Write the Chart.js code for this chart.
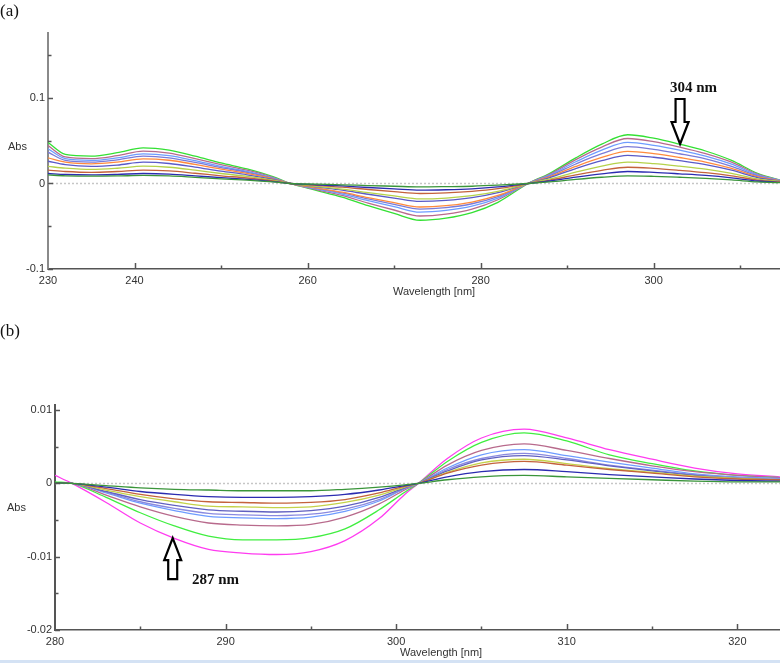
<!DOCTYPE html>
<html lang="en">
<head>
<meta charset="UTF-8">
<title>Derivative spectra</title>
<script src="https://cdn.jsdelivr.net/npm/chart.js@4"></script>
<style>
  body { margin: 0; background: #fff; width: 780px; height: 663px; position: relative; overflow: hidden; font-family: Arial, "Liberation Sans", sans-serif; }
  canvas { position: absolute; left: 0; }
  #chartA { top: 0; }
  #chartB { top: 300px; }
  .lbl { position: absolute; white-space: nowrap; line-height: 1; }
  .panel { font-family: "Liberation Serif", "Times New Roman", serif; font-size: 17px; color: #111; }
  .axis { font-size: 11px; color: #333; }
  .note { font-family: "Liberation Serif", "Times New Roman", serif; font-weight: bold; font-size: 15px; color: #111; }
  .bar { position: absolute; left: 0; top: 660px; width: 780px; height: 3px; background: #d4e2f4; }
</style>
</head>
<body>
<canvas id="chartA" width="780" height="300"></canvas>
<canvas id="chartB" width="780" height="363"></canvas>

<div class="lbl panel" style="left:0; top:2px;">(a)</div>
<div class="lbl axis" style="left:8px; top:141px;">Abs</div>
<div class="lbl axis" style="left:393px; top:286px;">Wavelength [nm]</div>
<div class="lbl note" style="left:670px; top:80px;">304 nm</div>

<div class="lbl panel" style="left:0; top:322px;">(b)</div>
<div class="lbl axis" style="left:7px; top:502px;">Abs</div>
<div class="lbl axis" style="left:400px; top:647px;">Wavelength [nm]</div>
<div class="lbl note" style="left:192px; top:572px;">287 nm</div>
<div class="bar"></div>

<script>
// ---- (a) spectra, 230-315 nm ----
const waveA = [230, 232, 235, 238, 241, 244, 247, 250, 253, 256, 258, 261, 264, 267, 270, 273, 276, 279, 282, 285.5, 288, 291, 294, 297, 300, 303, 306, 309, 312, 315];
const a_green      = [0.048, 0.034, 0.032, 0.036, 0.0417, 0.039, 0.032, 0.024, 0.017, 0.008, 0, -0.008, -0.016, -0.026, -0.035, -0.043, -0.0405, -0.034, -0.022, 0, 0.012, 0.030, 0.046, 0.057, 0.053, 0.046, 0.038, 0.027, 0.012, 0.003];
const a_mauve      = [0.0444, 0.031, 0.029, 0.0325, 0.0378, 0.0355, 0.029, 0.022, 0.0155, 0.0072, 0, -0.0072, -0.014, -0.023, -0.031, -0.038, -0.0358, -0.030, -0.019, 0, 0.011, 0.028, 0.0426, 0.0526, 0.049, 0.0426, 0.035, 0.025, 0.011, 0.003];
const a_lightBlue  = [0.0406, 0.029, 0.027, 0.030, 0.0347, 0.0326, 0.0267, 0.020, 0.0142, 0.0066, 0, -0.0064, -0.0124, -0.020, -0.027, -0.0335, -0.0315, -0.0265, -0.017, 0, 0.010, 0.0254, 0.039, 0.048, 0.0446, 0.039, 0.032, 0.0226, 0.010, 0.003];
const a_slate      = [0.0366, 0.027, 0.025, 0.0276, 0.032, 0.030, 0.0246, 0.0186, 0.0131, 0.0061, 0, -0.0057, -0.011, -0.018, -0.0243, -0.030, -0.0283, -0.0237, -0.0153, 0, 0.009, 0.0228, 0.0348, 0.043, 0.040, 0.0348, 0.0288, 0.020, 0.009, 0.0025];
const a_orange     = [0.030, 0.025, 0.023, 0.025, 0.0289, 0.0272, 0.0223, 0.0168, 0.0118, 0.0055, 0, -0.0052, -0.0102, -0.0165, -0.0223, -0.0275, -0.026, -0.0217, -0.014, 0, 0.0079, 0.0199, 0.0304, 0.0375, 0.0349, 0.0304, 0.0251, 0.0176, 0.0079, 0.0025];
const a_purple     = [0.026, 0.022, 0.020, 0.0215, 0.0249, 0.0234, 0.0192, 0.0144, 0.0102, 0.0047, 0, -0.004, -0.0078, -0.0126, -0.017, -0.021, -0.0198, -0.0166, -0.0107, 0, 0.0069, 0.0175, 0.0267, 0.033, 0.0307, 0.0267, 0.0221, 0.0155, 0.0069, 0.002];
const a_yellowGrn  = [0.020, 0.018, 0.0165, 0.0178, 0.0202, 0.019, 0.0156, 0.0117, 0.0083, 0.0038, 0, -0.0034, -0.0067, -0.0108, -0.0146, -0.018, -0.017, -0.0142, -0.0092, 0, 0.0053, 0.0133, 0.0203, 0.025, 0.0233, 0.0203, 0.0168, 0.0118, 0.0053, 0.002];
const a_brown      = [0.0156, 0.014, 0.013, 0.014, 0.0156, 0.0147, 0.012, 0.009, 0.0064, 0.003, 0, -0.0022, -0.0043, -0.007, -0.0095, -0.0117, -0.011, -0.0092, -0.006, 0, 0.004, 0.010, 0.0154, 0.019, 0.0177, 0.0154, 0.0127, 0.009, 0.004, 0.0015];
const a_navy       = [0.0117, 0.0105, 0.010, 0.0106, 0.0117, 0.011, 0.009, 0.0068, 0.0048, 0.0022, 0, -0.0015, -0.0029, -0.0047, -0.0063, -0.0078, -0.0073, -0.0062, -0.004, 0, 0.0029, 0.0074, 0.0113, 0.014, 0.013, 0.0113, 0.0094, 0.0066, 0.0029, 0.001];
const a_darkGreen  = [0.010, 0.009, 0.0085, 0.0088, 0.0094, 0.0088, 0.0072, 0.0055, 0.0039, 0.0018, 0, -0.0008, -0.0015, -0.0024, -0.0032, -0.004, -0.0037, -0.0032, -0.002, 0, 0.0019, 0.0048, 0.0073, 0.009, 0.0084, 0.0073, 0.006, 0.0042, 0.0019, 0.0008];

const a_yLabels = [0.1, 0, -0.1];
const a_yMinor = [0.15, 0.05, -0.05];
const a_xLabels = [230, 240, 260, 280, 300];
const a_xMajor = [240, 260, 280, 300];
const a_xMinor = [250, 270, 290, 310];

// ---- (b) spectra, 280-322.5 nm ----
const waveB = [280, 281, 283, 285, 287, 289, 291, 293, 295, 297, 299, 300.5, 301.3, 303, 305, 307.5, 310, 312.5, 315, 317.5, 320, 322.5];
const b_magenta    = [0.0011, 0, -0.0026, -0.0054, -0.0075, -0.009, -0.0095, -0.0097, -0.0093, -0.0078, -0.0048, -0.0015, 0, 0.0034, 0.0062, 0.0074, 0.0062, 0.0046, 0.0033, 0.0021, 0.0013, 0.0009];
const b_green      = [0.0002, 0, -0.0019, -0.004, -0.0058, -0.0072, -0.0077, -0.0077, -0.0074, -0.0062, -0.0036, -0.0012, 0, 0.003, 0.0056, 0.0069, 0.0058, 0.0039, 0.0027, 0.0017, 0.0011, 0.0008];
const b_mauve      = [0.0001, 0, -0.0016, -0.0032, -0.0045, -0.0054, -0.0057, -0.0058, -0.0056, -0.0046, -0.0028, -0.0009, 0, 0.0025, 0.0045, 0.0054, 0.0045, 0.0034, 0.0024, 0.0016, 0.0011, 0.0008];
const b_lightBlue  = [0.0001, 0, -0.0013, -0.0027, -0.0037, -0.0045, -0.0047, -0.0048, -0.0046, -0.0038, -0.0024, -0.0007, 0, 0.0021, 0.0039, 0.0046, 0.0038, 0.0029, 0.0021, 0.0013, 0.0009, 0.0007];
const b_lavender   = [0.0001, 0, -0.0012, -0.0025, -0.0034, -0.0041, -0.0043, -0.0044, -0.0042, -0.0035, -0.0022, -0.0007, 0, 0.0019, 0.0034, 0.0041, 0.0034, 0.0025, 0.0018, 0.0012, 0.0008, 0.0006];
const b_purple     = [0.0001, 0, -0.0011, -0.0022, -0.003, -0.0036, -0.0038, -0.0039, -0.0037, -0.0031, -0.0019, -0.0006, 0, 0.0017, 0.0032, 0.0038, 0.0032, 0.0024, 0.0017, 0.0011, 0.0007, 0.0005];
const b_yellowGrn  = [0.0001, 0, -0.0009, -0.0018, -0.0025, -0.0031, -0.0032, -0.0033, -0.0032, -0.0026, -0.0016, -0.0005, 0, 0.0015, 0.0028, 0.0033, 0.0027, 0.002, 0.0015, 0.001, 0.0007, 0.0005];
const b_brown      = [0.0001, 0, -0.0007, -0.0015, -0.0021, -0.0025, -0.0026, -0.0027, -0.0026, -0.0022, -0.0013, -0.0004, 0, 0.0014, 0.0025, 0.003, 0.0025, 0.0019, 0.0014, 0.0009, 0.0006, 0.0005];
const b_navy       = [0.0001, 0, -0.0005, -0.0011, -0.0015, -0.0018, -0.0019, -0.0019, -0.0018, -0.0015, -0.0009, -0.0003, 0, 0.0009, 0.0016, 0.0019, 0.0016, 0.0012, 0.0009, 0.0006, 0.0004, 0.0003];
const b_darkGreen  = [0.0001, 0, -0.0003, -0.0006, -0.0008, -0.0009, -0.001, -0.001, -0.001, -0.0008, -0.0005, -0.0002, 0, 0.0005, 0.0009, 0.0011, 0.0009, 0.0007, 0.0005, 0.0003, 0.0002, 0.0002];

const b_yLabels = [0.01, 0, -0.01, -0.02];
const b_yMinor = [0.005, -0.005, -0.015];
const b_xLabels = [280, 290, 300, 310, 320];
const b_xMajor = [290, 300, 310, 320];
const b_xMinor = [285, 295, 305, 315];

Chart.defaults.font.family = 'Arial, "Liberation Sans", sans-serif';
Chart.defaults.font.size = 11;
Chart.defaults.color = '#333';

function lines(waves, series) {
    return series.map(([vals, color]) => ({
        data: waves.map((w, i) => ({ x: w, y: vals[i] })),
        borderColor: color,
        borderWidth: 1.3,
        pointRadius: 0,
        fill: false,
        cubicInterpolationMode: 'monotone'
    }));
}

const near = (list, v) => list.find(t => Math.abs(t - v) < 1e-9);

// zero line, inward ticks and the outlined arrow
const decor = {
    id: 'decor',
    beforeDatasetsDraw(chart, args, o) {
        const { ctx, chartArea: a, scales: { y } } = chart;
        const y0 = Math.round(y.getPixelForValue(0)) + 0.5;
        ctx.save();
        ctx.strokeStyle = '#c6c6c6';
        ctx.lineWidth = 1.5;
        ctx.setLineDash([2, 2]);
        ctx.beginPath();
        ctx.moveTo(a.left, y0);
        ctx.lineTo(a.right, y0);
        ctx.stroke();
        ctx.restore();
    },
    afterDraw(chart, args, o) {
        const { ctx, chartArea: a, scales: { x, y } } = chart;
        ctx.save();
        ctx.strokeStyle = o.tickColor;
        ctx.lineWidth = 1.5;
        const seg = (x1, y1, x2, y2) => { ctx.beginPath(); ctx.moveTo(x1, y1); ctx.lineTo(x2, y2); ctx.stroke(); };
        o.xMajor.forEach(v => { const p = Math.round(x.getPixelForValue(v)) + 0.5; seg(p, a.bottom, p, a.bottom - 6); });
        o.xMinor.forEach(v => { const p = Math.round(x.getPixelForValue(v)) + 0.5; seg(p, a.bottom, p, a.bottom - 3.5); });
        o.yMajor.forEach(v => { const p = Math.round(y.getPixelForValue(v)) + 0.5; seg(a.left, p, a.left + 5, p); });
        o.yMinor.forEach(v => { const p = Math.round(y.getPixelForValue(v)) + 0.5; seg(a.left, p, a.left + 3.5, p); });

        // arrow pointing at the marked wavelength
        const ar = o.arrow;
        const cx = x.getPixelForValue(ar.x), tip = y.getPixelForValue(ar.y);
        const s = ar.dir === 'down' ? -1 : 1;
        const base = tip + s * 22, end = tip + s * ar.len;
        ctx.beginPath();
        ctx.moveTo(cx, tip);
        ctx.lineTo(cx + 8.5, base);
        ctx.lineTo(cx + 4.5, base);
        ctx.lineTo(cx + 4.5, end);
        ctx.lineTo(cx - 4.5, end);
        ctx.lineTo(cx - 4.5, base);
        ctx.lineTo(cx - 8.5, base);
        ctx.closePath();
        ctx.fillStyle = '#fff';
        ctx.fill();
        ctx.strokeStyle = '#000';
        ctx.lineWidth = 2.2;
        ctx.lineJoin = 'miter';
        ctx.stroke();
        ctx.restore();
    }
};

function makeChart(id, cfg) {
    return new Chart(document.getElementById(id), {
        type: 'line',
        data: { datasets: lines(cfg.waves, cfg.series) },
        options: {
            responsive: false,
            animation: false,
            layout: { padding: { top: cfg.top, left: 0, right: 0, bottom: 0 } },
            plugins: {
                legend: { display: false },
                tooltip: { enabled: false },
                decor: cfg.decor
            },
            scales: {
                x: {
                    type: 'linear',
                    min: cfg.xMin, max: cfg.xMax,
                    grid: { display: false, drawTicks: false },
                    border: { display: true, color: '#555', width: 1.5 },
                    afterFit: s => { s.height = cfg.xHeight; },
                    ticks: {
                        stepSize: cfg.xStep, includeBounds: false, padding: 5, maxRotation: 0, autoSkip: false,
                        callback: v => { const t = near(cfg.xLabels, v); return t === undefined ? '' : String(t); }
                    }
                },
                y: {
                    min: cfg.yMin, max: cfg.yMax,
                    grid: { display: false, drawTicks: false },
                    border: { display: true, color: cfg.yAxisColor, width: 2 },
                    afterFit: s => { s.width = cfg.yWidth; },
                    ticks: {
                        stepSize: cfg.yStep, includeBounds: false, padding: 3, autoSkip: false,
                        callback: v => { const t = near(cfg.yLabels, v); return t === undefined ? '' : String(t); }
                    }
                }
            }
        },
        plugins: [decor]
    });
}

makeChart('chartA', {
    waves: waveA,
    series: [
        [a_darkGreen, '#3a953a'], [a_navy, '#2b2bb0'], [a_brown, '#c4623c'],
        [a_yellowGrn, '#b5d24a'], [a_purple, '#5a5ac8'], [a_orange, '#ff8a3d'], [a_slate, '#7b7bd8'],
        [a_lightBlue, '#6e9cff'], [a_mauve, '#b86a8c'], [a_green, '#33e033']
    ],
    top: 33, xHeight: 31, yWidth: 48,
    xMin: 230, xMax: 314.6, xStep: 10, xLabels: a_xLabels,
    yMin: -0.1, yMax: 0.176, yStep: 0.05, yLabels: a_yLabels,
    yAxisColor: '#8a8a8a',
    decor: {
        tickColor: '#555', xMajor: a_xMajor, xMinor: a_xMinor, yMajor: a_yLabels, yMinor: a_yMinor,
        arrow: { x: 303.05, y: 0.0462, dir: 'down', len: 45 }
    }
});

makeChart('chartB', {
    waves: waveB,
    series: [
        [b_darkGreen, '#3a953a'], [b_navy, '#2b2bb0'], [b_brown, '#c4623c'], [b_yellowGrn, '#c4d24a'],
        [b_purple, '#6060c0'], [b_lavender, '#8a8ae0'], [b_lightBlue, '#6e9cff'], [b_mauve, '#b86a8c'],
        [b_green, '#40ee40'], [b_magenta, '#ff3cf0']
    ],
    top: 105, xHeight: 33, yWidth: 55,
    xMin: 280, xMax: 322.5, xStep: 5, xLabels: b_xLabels,
    yMin: -0.02, yMax: 0.0107, yStep: 0.005, yLabels: b_yLabels,
    yAxisColor: '#555',
    decor: {
        tickColor: '#555', xMajor: b_xMajor, xMinor: b_xMinor, yMajor: b_yLabels, yMinor: b_yMinor,
        arrow: { x: 286.9, y: -0.00747, dir: 'up', len: 41 }
    }
});
</script>
</body>
</html>
